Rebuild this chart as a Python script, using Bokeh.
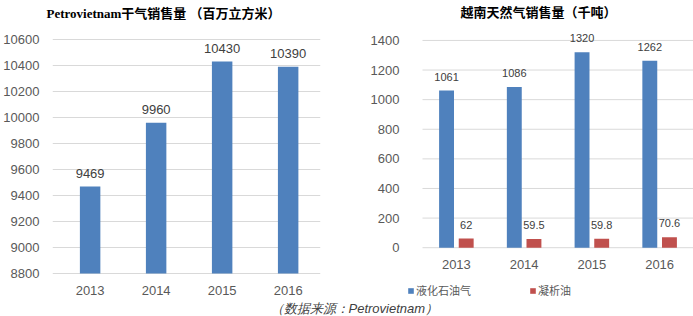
from bokeh.plotting import figure
from bokeh.models import (ColumnDataSource, Range1d, FixedTicker, Label, Legend,
                          LegendItem, LabelSet)
from bokeh.layouts import column, row
from bokeh.transform import dodge
from bokeh.core.properties import value
from bokeh.embed import file_html
from bokeh.resources import INLINE

# ---------------- data ----------------
years = [2013, 2014, 2015, 2016]
year_labels = ["2013", "2014", "2015", "2016"]
dry_gas = [9469, 9960, 10430, 10390]          # Petrovietnam 干气销售量 (百万立方米)
lpg = [1061, 1086, 1320, 1262]                # 液化石油气 (千吨)
condensate = [62, 59.5, 59.8, 70.6]           # 凝析油 (千吨)
left_ticks = [8800, 9000, 9200, 9400, 9600, 9800, 10000, 10200, 10400, 10600]
right_ticks = [0, 200, 400, 600, 800, 1000, 1200, 1400]
left_title = "Petrovietnam干气销售量 （百万立方米）"
right_title = "越南天然气销售量（千吨）"
series_names = ["液化石油气", "凝析油"]
source_note = "（数据来源：Petrovietnam）"

BLUE = "#4F81BD"
RED = "#C0504D"
GRID = "#D9D9D9"
TICK = "#595959"
LABEL = "#404040"
FONT = "'Liberation Sans', 'Noto Sans CJK SC'"

H = 300          # height of the chart row
TOP = 22         # frame top (px)


def span(lo, hi, px_lo, px_hi):
    """Extend an axis range so that lo/hi sit at the given pixel rows of a
    frame that runs from TOP to H."""
    k = (hi - lo) / (px_lo - px_hi)
    return Range1d(lo - (H - px_lo) * k, hi + (px_hi - TOP) * k)


def style(p, ticks, base):
    p.outline_line_color = None
    p.xgrid.grid_line_color = None
    p.ygrid.grid_line_color = GRID
    p.yaxis.ticker = FixedTicker(ticks=ticks)
    p.xaxis.ticker = FixedTicker(ticks=years)
    p.xaxis.major_label_overrides = {y: s for y, s in zip(years, year_labels)}
    p.xaxis.fixed_location = base
    for ax in (p.xaxis, p.yaxis):
        ax.axis_line_color = None
        ax.major_tick_line_color = None
        ax.minor_tick_line_color = None
        ax.major_label_text_color = TICK
        ax.major_label_text_font = FONT
        ax.major_label_text_font_size = "13px"
    p.xaxis.major_label_standoff = 6
    p.title.text_font_style = "bold"
    p.title.text_font_size = "13px"
    p.title.text_color = "#000000"
    p.title.align = "left"
    p.title.vertical_align = "top"
    p.title.standoff = 2


# ---------------- left chart ----------------
p1 = figure(width=350, height=H, output_backend="svg", toolbar_location=None,
            x_range=Range1d(2012.43, 2016.49), y_range=span(8800, 10600, 273, 38),
            min_border_left=48, min_border_right=30, min_border_top=TOP,
            min_border_bottom=0, title=left_title)
style(p1, left_ticks, 8800)
p1.title.text_font = "'Liberation Serif', 'Noto Sans CJK SC'"
p1.title.offset = -6
p1.yaxis.major_label_standoff = 7

src1 = ColumnDataSource(dict(x=years, top=dry_gas, label=[str(v) for v in dry_gas]))
p1.vbar(x="x", top="top", bottom=8800, width=0.31, source=src1,
        fill_color=BLUE, line_color=None)
p1.add_layout(LabelSet(x="x", y="top", text="label", source=src1,
                       text_align="center", text_baseline="bottom", y_offset=9,
                       text_font_size="13px", text_color=LABEL,
                       text_font=value("Liberation Sans")))

# ---------------- right chart ----------------
# frame starts at x=406 so that the legend (below the axis) is not clipped;
# the grid lines are drawn only over the category span
FRAME_L = 406
PX_PER_YEAR = (693 - 422) / 4.0
x_start = years[0] - 0.5 - (422 - FRAME_L) / PX_PER_YEAR
x_end = years[-1] + 0.5
p2 = figure(width=343, height=H, output_backend="svg", toolbar_location=None,
            x_range=Range1d(x_start, x_end), y_range=span(0, 1400, 247, 39),
            min_border_left=FRAME_L - 350, min_border_right=0, min_border_top=TOP,
            min_border_bottom=0, title=right_title)
style(p2, right_ticks, 0)
p2.ygrid.grid_line_color = None
p2.title.text_font = "'Noto Sans CJK SC'"
p2.title.offset = 422 - FRAME_L + 38
p2.yaxis.major_label_standoff = 1

p2.segment(x0=years[0] - 0.5, x1=years[-1] + 0.5, y0=right_ticks, y1=right_ticks,
           line_color=GRID, line_width=1)

src2 = ColumnDataSource(dict(x=years, lpg=lpg, cond=condensate,
                             lpg_label=[str(v) for v in lpg],
                             cond_label=[str(v) for v in condensate]))
r_lpg = p2.vbar(x=dodge("x", -0.145, range=p2.x_range), top="lpg", width=0.22,
                source=src2, fill_color=BLUE, line_color=None)
r_cond = p2.vbar(x=dodge("x", 0.145, range=p2.x_range), top="cond", width=0.22,
                 source=src2, fill_color=RED, line_color=None)
p2.add_layout(LabelSet(x=dodge("x", -0.145, range=p2.x_range), y="lpg", text="lpg_label",
                       source=src2, text_align="center", text_baseline="bottom",
                       y_offset=10, text_font_size="11px", text_color=LABEL,
                       text_font=value("Liberation Sans")))
p2.add_layout(LabelSet(x=dodge("x", 0.145, range=p2.x_range), y="cond", text="cond_label",
                       source=src2, text_align="center", text_baseline="bottom",
                       y_offset=10, text_font_size="11px", text_color=LABEL,
                       text_font=value("Liberation Sans")))

legend = Legend(items=[LegendItem(label=series_names[0], renderers=[r_lpg]),
                       LegendItem(label=series_names[1], renderers=[r_cond])],
                orientation="horizontal", location=(407 - FRAME_L, 2),
                glyph_width=7, glyph_height=7, label_height=12, label_standoff=2,
                spacing=58, padding=0, margin=0, border_line_color=None,
                background_fill_alpha=0, label_text_font_size="11px",
                label_text_font="Noto Sans CJK SC", label_text_color=TICK)
p2.add_layout(legend)

# ---------------- footer ----------------
p3 = figure(width=693, height=16, output_backend="svg", toolbar_location=None,
            x_range=Range1d(0, 693), y_range=Range1d(0, 16), min_border=0)
p3.axis.visible = False
p3.grid.visible = False
p3.outline_line_color = None
p3.add_layout(Label(x=270, y=8, text=source_note, text_baseline="middle",
                    text_font_style="italic", text_font_size="13px",
                    text_color=LABEL, text_font="Liberation Sans"))

layout = column(row(p1, p2), p3)
open("out.html", "w").write(file_html(layout, INLINE))
